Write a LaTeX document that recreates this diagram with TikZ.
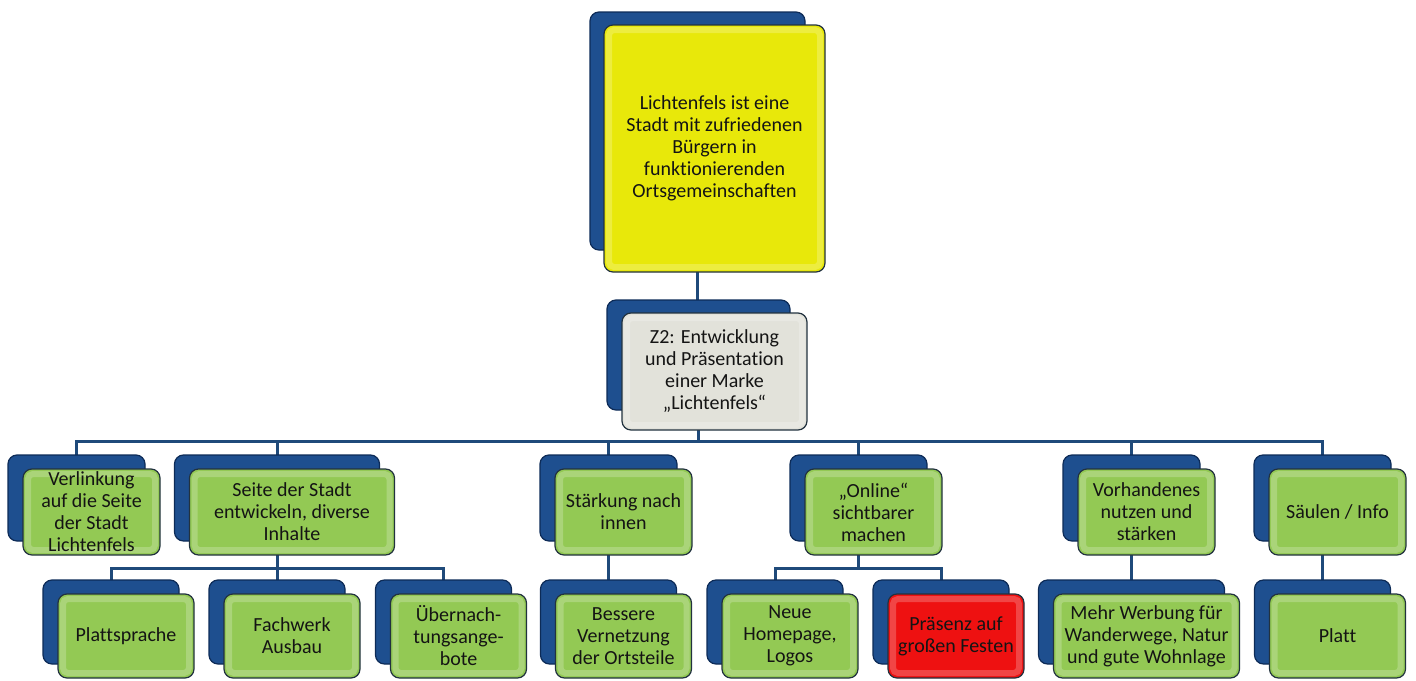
\documentclass[tikz,border=0pt]{standalone}
\usepackage{fontspec}
\setmainfont{Carlito}[Ligatures=NoCommon]
\usetikzlibrary{backgrounds}
\definecolor{boxblue}{HTML}{1E4F8F}
\definecolor{boxnavy}{HTML}{0D2B57}
\definecolor{boxedge}{HTML}{22323F}
\definecolor{boxgreen}{HTML}{93C954}
\definecolor{boxyellow}{HTML}{E8E80A}
\definecolor{boxgray}{HTML}{E2E2DA}
\definecolor{boxred}{HTML}{EE1111}
\definecolor{linenavy}{HTML}{1F4A7A}
\tikzstyle{backbox} = [rectangle, rounded corners=9pt, fill=boxblue, draw=boxnavy, line width=1.2pt]
\tikzstyle{frontbox} = [rectangle, rounded corners=9pt, draw=boxedge, line width=1.2pt, align=center, inner sep=0pt, text=black!92, font=\fontsize{20}{22}\selectfont,
  path picture={\draw[white, opacity=.22, line width=6pt, rounded corners=5pt] ([shift={(5pt,5pt)}]path picture bounding box.south west) rectangle ([shift={(-5pt,-5pt)}]path picture bounding box.north east);}]
\tikzstyle{greenbox} = [frontbox, fill=boxgreen]
\tikzstyle{lvlone} = [minimum width=137pt, minimum height=86pt]
\tikzstyle{lvltwo} = [minimum width=136pt, minimum height=84pt]
\tikzstyle{conn} = [draw=linenavy, line width=3pt]

\begin{document}
\begin{tikzpicture}[x=1pt, y=-1pt]
\useasboundingbox (0,0) rectangle (1416,680);

% Root and Z2
\node (rootB) [backbox, minimum width=215pt, minimum height=238pt] at (697.5,131) {};
\node (root) [frontbox, fill=boxyellow, minimum width=221pt, minimum height=247pt, xshift=17pt, yshift=-17.5pt] at (rootB) {Lichtenfels ist eine\\Stadt mit zufriedenen\\Bürgern in\\funktionierenden\\Ortsgemeinschaften};
\node (z2B) [backbox, minimum width=183pt, minimum height=110pt] at (698.5,355) {};
\node (z2) [frontbox, fill=boxgray, minimum width=185pt, minimum height=117pt, xshift=16pt, yshift=-16.5pt] at (z2B) {Z2: Entwicklung\\und Präsentation\\einer Marke\\„Lichtenfels“};

% First row
\node (verlB) [backbox, lvlone] at (76.5,498) {};
\node (verl) [greenbox, lvlone, xshift=15pt, yshift=-14pt] at (verlB) {Verlinkung\\auf die Seite\\der Stadt\\Lichtenfels};
\node (seiteB) [backbox, lvlone, minimum width=205pt] at (277,498) {};
\node (seite) [greenbox, lvlone, minimum width=205pt, xshift=15pt, yshift=-14pt] at (seiteB) {Seite der Stadt\\entwickeln, diverse\\Inhalte};
\node (staerkB) [backbox, lvlone] at (608.5,498) {};
\node (staerk) [greenbox, lvlone, xshift=15pt, yshift=-14pt] at (staerkB) {Stärkung nach\\innen};
\node (onlineB) [backbox, lvlone] at (858.5,498) {};
\node (online) [greenbox, lvlone, xshift=15pt, yshift=-14pt] at (onlineB) {„Online“\\sichtbarer\\machen};
\node (vorhB) [backbox, lvlone] at (1131.5,498) {};
\node (vorh) [greenbox, lvlone, xshift=15pt, yshift=-14pt] at (vorhB) {Vorhandenes\\nutzen und\\stärken};
\node (saeulB) [backbox, lvlone] at (1322.5,498) {};
\node (saeul) [greenbox, lvlone, xshift=15pt, yshift=-14pt] at (saeulB) {Säulen / Info};

% Second row
\node (plsprB) [backbox, lvltwo] at (111,622) {};
\node (plspr) [greenbox, lvltwo, xshift=15pt, yshift=-14pt] at (plsprB) {Plattsprache};
\node (fachwB) [backbox, lvltwo] at (277,622) {};
\node (fachw) [greenbox, lvltwo, xshift=15pt, yshift=-14pt] at (fachwB) {Fachwerk\\Ausbau};
\node (uebernB) [backbox, lvltwo] at (443.5,622) {};
\node (uebern) [greenbox, lvltwo, xshift=15pt, yshift=-14pt] at (uebernB) {Übernach-\\tungsange-\\bote};
\node (vernB) [backbox, lvltwo] at (608.5,622) {};
\node (vern) [greenbox, lvltwo, xshift=15pt, yshift=-14pt] at (vernB) {Bessere\\Vernetzung\\der Ortsteile};
\node (homeB) [backbox, lvltwo] at (775,622) {};
\node (home) [greenbox, lvltwo, xshift=15pt, yshift=-14pt] at (homeB) {Neue\\Homepage,\\Logos};
\node (festB) [backbox, lvltwo] at (941,622) {};
\node (fest) [frontbox, fill=boxred, lvltwo, xshift=15pt, yshift=-14pt] at (festB) {Präsenz auf\\großen Festen};
\node (werbB) [backbox, lvltwo, minimum width=186pt] at (1131.5,622) {};
\node (werb) [greenbox, lvltwo, minimum width=186pt, xshift=15pt, yshift=-14pt] at (werbB) {Mehr Werbung für\\Wanderwege, Natur\\und gute Wohnlage};
\node (plattB) [backbox, lvltwo] at (1322.5,622) {};
\node (platt) [greenbox, lvltwo, xshift=15pt, yshift=-14pt] at (plattB) {Platt};

% Connectors
\begin{pgfonlayer}{background}
\coordinate (bus) at (0,441);
\coordinate (busS) at (0,568);
\draw [conn] (rootB.center) -- (rootB.center |- z2B.center);
\draw [conn] (z2B.center) -- (z2B |- bus) -| (verlB.center);
\draw [conn] (z2B.center) -- (z2B |- bus) -| (seiteB.center);
\draw [conn] (z2B.center) -- (z2B |- bus) -| (staerkB.center);
\draw [conn] (z2B.center) -- (z2B |- bus) -| (onlineB.center);
\draw [conn] (z2B.center) -- (z2B |- bus) -| (vorhB.center);
\draw [conn] (z2B.center) -- (z2B |- bus) -| (saeulB.center);
\draw [conn] (seiteB.center) -- (seiteB |- busS) -| (plsprB.center);
\draw [conn] (seiteB.center) -- (fachwB.center);
\draw [conn] (seiteB.center) -- (seiteB |- busS) -| (uebernB.center);
\draw [conn] (staerkB.center) -- (vernB.center);
\draw [conn] (onlineB.center) -- (onlineB |- busS) -| (homeB.center);
\draw [conn] (onlineB.center) -- (onlineB |- busS) -| (festB.center);
\draw [conn] (vorhB.center) -- (werbB.center);
\draw [conn] (saeulB.center) -- (plattB.center);
\end{pgfonlayer}

\end{tikzpicture}
\end{document}
